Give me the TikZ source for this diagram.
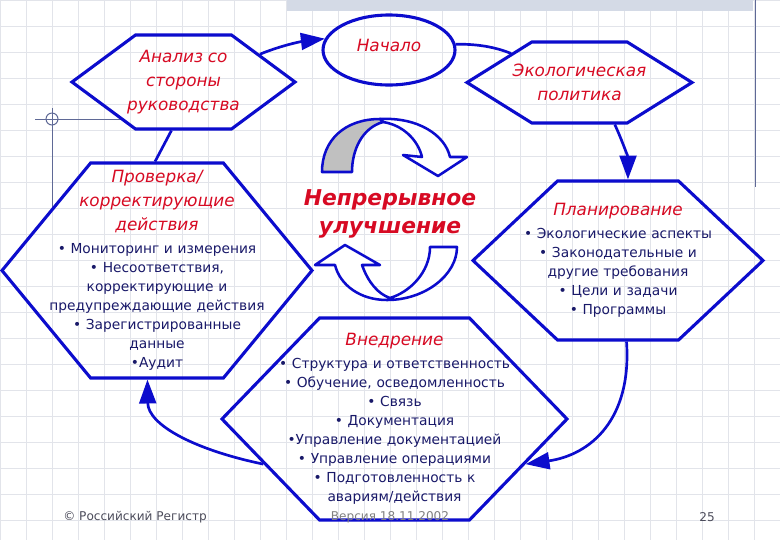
\documentclass[tikz,border=0pt]{standalone}
\usepackage{fontspec}
\setmainfont{DejaVu Sans}
\usepackage{tikz}
\usetikzlibrary{arrows.meta,shapes.geometric,shapes.symbols,positioning}

\definecolor{hexblue}{RGB}{12,12,205}
\definecolor{ttlred}{RGB}{215,10,35}
\definecolor{txtnavy}{RGB}{25,25,105}
\definecolor{gridgrey}{RGB}{226,228,234}
\definecolor{footgrey}{RGB}{75,75,90}
\definecolor{decoblue}{RGB}{95,105,150}
\definecolor{bandgrey}{RGB}{212,218,230}
\definecolor{underside}{RGB}{192,192,192}

\newcommand{\pxu}{0.025cm}
\newcommand{\ttl}{\color{ttlred}\itshape\fontsize{12}{17}\selectfont}
\newcommand{\bdy}{\color{txtnavy}\fontsize{9.8}{13.5}\selectfont}

\tikzset{
  hexa/.style={signal, signal to=east and west, draw=hexblue, line width=2.2pt, inner sep=0pt},
  oval/.style={ellipse, draw=hexblue, line width=2.2pt, inner sep=0pt},
  txt/.style={align=center, inner sep=0pt},
  conn/.style={draw=hexblue, line width=1.9pt},
  arrowtip/.style={-{Triangle[length=17pt,width=12pt]}},
  cyc/.style={draw=hexblue, line width=1.8pt, fill=white, line join=round},
  gridline/.style={draw=gridgrey, line width=0.5pt},
  deco/.style={draw=decoblue, line width=0.7pt},
  foot/.style={inner sep=0pt, color=footgrey, font=\fontsize{8.6}{10}\selectfont}
}

\begin{document}
\begin{tikzpicture}[x=0.025cm, y=-0.025cm]
    \useasboundingbox (0,0) rectangle (780,540);
    \fill[white] (0,0) rectangle (780,540);

    % slide background
    \foreach \gx in {0,26,...,780} \draw[gridline] (\gx,0) -- (\gx,540);
    \foreach \gy in {0,26,...,540} \draw[gridline] (0,\gy) -- (780,\gy);
    \fill[bandgrey] (287,0) rectangle (753,11);
    \draw[deco] (755,0) -- (755,187);
    \draw[deco] (35,119) -- (122,119);
    \draw[deco] (52,108) -- (52,208);
    \draw[deco] (52,119) circle[radius=6];

    % stages
    \node[hexa, minimum width=223*\pxu, minimum height=94*\pxu, signal pointer angle=73] (analiz) at (183.5,82) {};
    \node[oval, minimum width=132*\pxu, minimum height=70*\pxu] (nachalo) at (389,50) {};
    \node[hexa, minimum width=225*\pxu, minimum height=81*\pxu, signal pointer angle=64] (eko) at (579.5,82.5) {};
    \node[hexa, minimum width=310*\pxu, minimum height=215*\pxu, signal pointer angle=101] (prov) at (157,270.5) {};
    \node[hexa, minimum width=290*\pxu, minimum height=159*\pxu, signal pointer angle=86.5] (plan) at (618,260.5) {};
    \node[hexa, minimum width=345*\pxu, minimum height=202*\pxu, signal pointer angle=92] (vnedr) at (394.5,419) {};

    \node[txt, text width=4cm] (analiz-t) at (analiz) {\ttl Анализ со\\стороны\\руководства\par};
    \node[txt, text width=3cm] (nachalo-t) at (389,45) {\ttl Начало\par};
    \node[txt, text width=4.5cm] (eko-t) at (eko) {\ttl Экологическая\\политика\par};
    \node[txt, text width=6cm] (prov-t) at (prov) {{\ttl Проверка/\\корректирующие\\действия\par}\vspace{3pt}
      {\bdy • Мониторинг и измерения\\• Несоответствия,\\корректирующие и\\предупреждающие действия\\• Зарегистрированные\\данные\\•Аудит\par}};
    \node[txt, text width=6cm] (plan-t) at (plan) {{\ttl Планирование\par}\vspace{3pt}
      {\bdy • Экологические аспекты\\• Законодательные и\\другие требования\\• Цели и задачи\\• Программы\par}};
    \node[txt, text width=6.5cm] (vnedr-t) at (vnedr) {{\ttl Внедрение\par}\vspace{3pt}
      {\bdy • Структура и ответственность\\• Обучение, осведомленность\\• Связь\\• Документация\\•Управление документацией\\• Управление операциями\\• Подготовленность к\\авариям/действия\par}};

    % improvement cycle
    \filldraw[cyc] (380,119) .. controls (418,117) and (445,135) .. (450,157) -- (467,157) -- (438,176) -- (403,155) -- (422,157) .. controls (418,140) and (403,125) .. (383,122) -- cycle;
    \filldraw[cyc, fill=underside] (322,172) .. controls (322,140) and (345,119) .. (380,119) -- (383,122) .. controls (362,128) and (352,150) .. (352,172) -- cycle;
    \filldraw[cyc] (430,247) -- (457,247) .. controls (457,275) and (425,300) .. (387,300) .. controls (360,300) and (340,285) .. (335,265) -- (315,265) -- (345,245) -- (380,265) -- (362,265) .. controls (368,282) and (378,294) .. (390,298) .. controls (410,292) and (430,272) .. (430,247) -- cycle;
    \node[txt, text width=5cm] (nepr) at (390,214) {\color{ttlred}\bfseries\itshape\fontsize{15.5}{20}\selectfont Непрерывное\\улучшение\par};

    % links
    \draw[conn, arrowtip] (analiz.20) .. controls (285,44) and (305,41) .. (nachalo.170);
    \draw[conn] (nachalo.5) .. controls (478,44) and (495,47) .. (eko.157);
    \draw[conn, arrowtip] (eko.-50) .. controls (622,140) and (628,158) .. (plan.83);
    \draw[conn, arrowtip] (plan.-84) .. controls (632,420) and (590,455) .. (vnedr.-19);
    \draw[conn, arrowtip] (vnedr.199) .. controls (195,450) and (148,425) .. (prov.265);
    \draw[conn] (prov.91) -- (analiz.256);

    % footer
    \node[foot, anchor=west] (copyr) at (63,517) {© Российский Регистр};
    \node[foot, color=gray] (version) at (390,517) {Версия 18.11.2002};
    \node[foot] (page) at (707,517) {25};
\end{tikzpicture}
\end{document}
